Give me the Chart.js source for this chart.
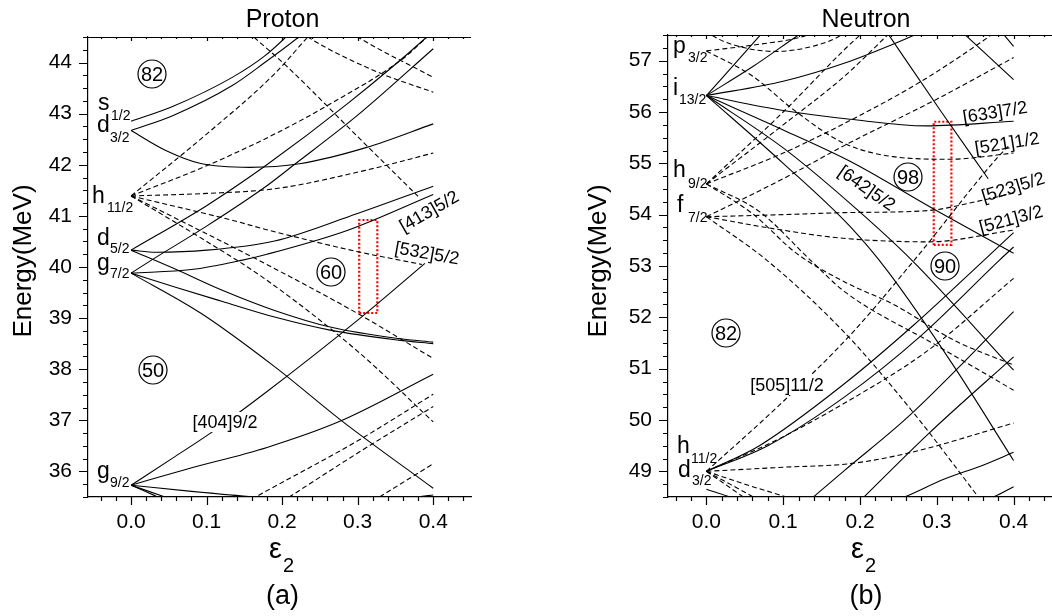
<!DOCTYPE html>
<html lang="en">
<head>
  <meta charset="UTF-8">
  <title>Nilsson diagrams</title>
  <script src="https://cdn.jsdelivr.net/npm/chart.js"></script>
  <style>
    body { margin: 0; background: #fff; }
    canvas { position: absolute; top: 0; }
  </style>
</head>
<body>
  <canvas id="protonChart" width="526" height="616" style="left:0"></canvas>
  <canvas id="neutronChart" width="526" height="616" style="left:526px"></canvas>

  <script>
const FONT = '"Liberation Sans", Arial, sans-serif';

// tick labels
const epsTicks = [0, 0.1, 0.2, 0.3, 0.4];
const protonETicks = [36, 37, 38, 39, 40, 41, 42, 43, 44];
const neutronETicks = [49, 50, 51, 52, 53, 54, 55, 56, 57];

// ---------- (a) proton : each entry is one orbital, points are [eps2, E] ----------
const pS12 = [
  [[0, 42.85], [0.055, 43.14], [0.134, 43.71], [0.177, 44.13], [0.205, 44.5], [0.215, 44.65]]
];
const pD32 = [
  [[0, 42.67], [0.055, 42.96], [0.134, 43.55], [0.177, 44.0], [0.222, 44.5], [0.232, 44.62]],
  [[0, 42.67], [0.046, 42.28], [0.091, 42.03], [0.157, 41.95], [0.223, 42.02], [0.312, 42.34], [0.4, 42.8]]
];
const pD52 = [
  [[0, 40.33], [0.1, 41.2], [0.177, 41.97], [0.287, 43.2], [0.39, 44.48], [0.4, 44.62]],
  [[0, 40.33], [0.033, 40.29], [0.1, 40.33], [0.19, 40.51], [0.287, 40.98], [0.4, 41.58]],
  [[0, 40.33], [0.057, 39.97], [0.12, 39.55], [0.19, 39.15], [0.265, 38.82], [0.354, 38.6], [0.4, 38.53]]
];
const pG72 = [
  [[0, 39.88], [0.0265, 40.13], [0.1, 40.8], [0.177, 41.56], [0.214, 41.98], [0.3, 42.97], [0.4, 44.27]],
  [[0, 39.88], [0.08, 39.95], [0.146, 40.13], [0.18, 40.25], [0.287, 40.72], [0.4, 41.42]],
  [[0, 39.88], [0.06, 39.6], [0.12, 39.33], [0.19, 39.02], [0.265, 38.76], [0.354, 38.57], [0.4, 38.5]],
  [[0, 39.88], [0.093, 39.09], [0.19, 38.05], [0.278, 37.0], [0.4, 35.67]]
];
const pG92 = [
  [[0, 35.73], [0.055, 36.26], [0.108, 36.78], [0.177, 37.53], [0.305, 39.02], [0.389, 40.07]],
  [[0, 35.73], [0.07, 36.03], [0.18, 36.47], [0.278, 36.99], [0.4, 37.9]],
  [[0, 35.73], [0.08, 35.61], [0.164, 35.5], [0.25, 35.42], [0.33, 35.43], [0.38, 35.5], [0.4, 35.54]],
  [[0, 35.73], [0.045, 35.5], [0.06, 35.42]],
  [[0, 35.73], [0.035, 35.5], [0.05, 35.38]]
];
const pH112 = [
  [[0, 41.39], [0.1, 42.6], [0.19, 43.78], [0.234, 44.5], [0.25, 44.75]],
  [[0, 41.39], [0.1, 41.98], [0.19, 42.6], [0.26, 43.16], [0.362, 44.1], [0.389, 44.46], [0.4, 44.6]],
  [[0, 41.39], [0.1, 41.44], [0.19, 41.53], [0.31, 41.89], [0.4, 42.23]],
  [[0, 41.39], [0.135, 40.91], [0.177, 40.74], [0.3, 40.3], [0.385, 40.05]],
  [[0, 41.39], [0.1, 40.65], [0.177, 40.07], [0.3, 39.09], [0.4, 38.21]],
  [[0, 41.39], [0.1, 40.5], [0.177, 39.77], [0.3, 38.35], [0.4, 36.97]]
];
const pOtherDashed = [
  [[0.155, 44.6], [0.164, 44.48], [0.203, 43.97], [0.3, 42.55], [0.38, 41.38]],
  [[0.225, 44.6], [0.234, 44.5], [0.327, 43.81], [0.4, 43.42]],
  [[0.29, 44.6], [0.3, 44.5], [0.4, 43.71]],
  [[0.15, 35.38], [0.177, 35.6], [0.3, 36.6], [0.4, 37.51]],
  [[0.2, 35.41], [0.3, 36.36], [0.4, 37.27]],
  [[0.32, 35.42], [0.4, 36.15]]
];
const pBox = [[0.302, 39.1], [0.326, 40.92]];

// ---------- (b) neutron ----------
const nI132 = [
  [[0, 56.32], [0.069, 57.48], [0.076, 57.6]],
  [[0, 56.32], [0.06, 56.88], [0.119, 57.49], [0.13, 57.6]],
  [[0, 56.32], [0.1, 56.6], [0.187, 56.99], [0.243, 57.32], [0.271, 57.5], [0.285, 57.6]],
  [[0, 56.32], [0.1, 56.03], [0.187, 55.86], [0.286, 55.73], [0.4, 55.82]],
  [[0, 56.32], [0.1, 55.65], [0.187, 55.04], [0.297, 54.1], [0.4, 53.25]],
  [[0, 56.32], [0.1, 55.3], [0.187, 54.22], [0.267, 53.12], [0.4, 50.97]],
  [[0, 56.32], [0.1, 55.0], [0.187, 53.77], [0.236, 52.9], [0.323, 51.03], [0.4, 49.21]]
];
const nHighSolid = [
  [[0.233, 57.6], [0.306, 56.0], [0.367, 54.7]],
  [[0.33, 57.6], [0.4, 56.63]],
  [[0.382, 57.6], [0.4, 57.28]]
];
const nD32 = [
  [[0, 49], [0.069, 49.5], [0.18, 50.71], [0.27, 51.85], [0.362, 53.12], [0.4, 53.65]],
  [[0, 49], [0.08, 49.5], [0.18, 50.45], [0.28, 51.65], [0.382, 53.12], [0.4, 53.37]]
];
const nS12 = [
  [[0, 48.65], [0.033, 48.49], [0.05, 48.4]]
];
const nLowSolid = [
  [[0.13, 48.38], [0.18, 49.02], [0.2625, 50.06], [0.4, 52.11]],
  [[0.195, 48.35], [0.289, 49.73], [0.4, 51.23]],
  [[0.24, 48.4], [0.258, 48.5], [0.31, 48.85], [0.36, 49.12], [0.4, 49.37]],
  [[0.36, 48.4], [0.374, 48.5], [0.4, 48.7]]
];
const nP32 = [
  [[0, 57.19], [0.06, 56.7], [0.113, 56.05], [0.178, 55.4], [0.243, 55.13], [0.317, 55.08], [0.4, 55.2]],
  [[0, 57.19], [0.069, 57.32], [0.121, 57.45], [0.14, 57.55]]
];
const nTopDashed = [
  [[0, 57.6], [0.009, 57.48], [0.05, 57.25], [0.09, 57.18], [0.13, 57.25], [0.17, 57.45], [0.18, 57.55]]
];
const nH92 = [
  [[0, 54.6], [0.1, 56.0], [0.18, 57.22], [0.2, 57.5], [0.207, 57.6]],
  [[0, 54.6], [0.1, 55.75], [0.18, 56.7], [0.236, 57.5], [0.243, 57.6]],
  [[0, 54.6], [0.1, 55.2], [0.18, 55.78], [0.28, 56.6], [0.371, 57.5], [0.38, 57.6]],
  [[0, 54.6], [0.06, 54.02], [0.117, 53.25], [0.18, 52.69], [0.245, 52.24], [0.323, 51.55], [0.4, 51.07]],
  [[0, 54.6], [0.07, 54.05], [0.135, 53.12], [0.18, 52.5], [0.3, 51.45], [0.4, 50.58]]
];
const nF72 = [
  [[0, 53.96], [0.1, 54.7], [0.18, 55.35], [0.3, 56.25], [0.4, 57.06]],
  [[0, 53.96], [0.1, 54.0], [0.18, 54.04], [0.289, 54.08], [0.35, 54.25], [0.4, 54.42]],
  [[0, 53.96], [0.09, 53.72], [0.178, 53.54], [0.289, 53.47], [0.4, 53.7]],
  [[0, 53.96], [0.078, 53.12], [0.18, 51.7], [0.267, 50.19], [0.354, 48.5], [0.36, 48.38]]
];
const nH112 = [
  [[0, 49], [0.095, 50.29], [0.187, 51.65], [0.271, 53.12], [0.38, 55.13], [0.393, 55.33]],
  [[0, 49], [0.09, 49.6], [0.18, 50.33], [0.289, 51.36], [0.4, 52.76]],
  [[0, 49], [0.1, 49.08], [0.187, 49.15], [0.267, 49.37], [0.4, 49.94]],
  [[0, 49], [0.05, 48.75], [0.104, 48.5], [0.12, 48.42]],
  [[0, 49], [0.061, 48.5], [0.07, 48.42]],
  [[0, 49], [0.048, 48.5], [0.055, 48.42]]
];
const nBox = [[0.296, 53.41], [0.319, 55.81]];

// text annotations (page pixels)
const protonLevels = [
  ['s', '1/2', 98, 110, 111, 120],
  ['d', '3/2', 97, 132, 110, 142],
  ['h', '11/2', 92, 203, 107, 212],
  ['d', '5/2', 97, 245, 110, 253],
  ['g', '7/2', 97, 270, 110, 278],
  ['g', '9/2', 97, 478, 110, 487]
];
const neutronLevels = [
  ['p', '3/2', 673, 53, 688, 62],
  ['i', '13/2', 673, 95, 679, 104],
  ['h', '9/2', 673, 177, 688, 188],
  ['f', '7/2', 677, 212, 688, 222],
  ['h', '11/2', 677, 453, 691, 463],
  ['d', '3/2', 678, 477, 692, 485]
];
const protonMagic = [['82', 152, 74], ['50', 153, 370], ['60', 331, 272]];
const neutronMagic = [['82', 726, 333], ['98', 908, 177], ['90', 945, 266]];
const protonTags = [
  ['[413]5/2', 429, 211, -30, false],
  ['[532]5/2', 427, 253, 10, false],
  ['[404]9/2', 225, 422, 0, true]
];
const neutronTags = [
  ['[633]7/2', 995, 112, -9, false],
  ['[521]1/2', 1007, 143, -9, false],
  ['[523]5/2', 1013, 187, -17, false],
  ['[521]3/2', 1011, 219, -15, false],
  ['[642]5/2', 867, 188, 35, false],
  ['[505]11/2', 787, 385, 0, true]
];

function fanSets(curves, dashed) {
  return curves.map(c => ({
    data: c.map(([x, y]) => ({ x, y })),
    showLine: true,
    borderColor: '#000',
    borderWidth: 1.1,
    borderDash: dashed ? [5, 3] : [],
    pointRadius: 0,
    cubicInterpolationMode: 'monotone'
  }));
}

function boxSet(b) {
  const [[x0, y0], [x1, y1]] = b;
  return {
    data: [{ x: x0, y: y0 }, { x: x1, y: y0 }, { x: x1, y: y1 }, { x: x0, y: y1 }, { x: x0, y: y0 }],
    showLine: true,
    borderColor: '#ff0000',
    borderWidth: 2.2,
    borderDash: [2, 2],
    pointRadius: 0,
    tension: 0
  };
}

// frame, minor ticks and all the text
function decorPlugin(o) {
  return {
    id: 'decor',
    afterDraw(chart) {
      const { ctx, chartArea: a, scales: { x, y } } = chart;
      const dx = o.offset;
      ctx.save();
      ctx.strokeStyle = '#000';
      ctx.lineWidth = 1.2;
      ctx.beginPath();
      ctx.moveTo(a.left, a.top + 0.5);
      ctx.lineTo(a.right, a.top + 0.5);
      for (let k = Math.ceil(y.min * 4); k <= Math.floor(y.max * 4); k++) {
        const py = Math.round(y.getPixelForValue(k / 4)) + 0.5;
        const len = k % 4 === 0 ? 9 : 5;
        ctx.moveTo(a.left - len, py);
        ctx.lineTo(a.left, py);
      }
      for (let k = Math.ceil(x.min * 50 - 1e-9); k <= Math.floor(x.max * 50 + 1e-9); k++) {
        const px = Math.round(x.getPixelForValue(k / 50)) + 0.5;
        const major = k % 5 === 0;
        ctx.moveTo(px, a.bottom);
        ctx.lineTo(px, a.bottom + (major ? 8 : 4));
        ctx.moveTo(px, a.top);
        ctx.lineTo(px, a.top + (major ? 4 : 2));
      }
      ctx.stroke();

      ctx.fillStyle = '#000';
      ctx.textBaseline = 'alphabetic';
      ctx.textAlign = 'center';
      ctx.font = '25px ' + FONT;
      ctx.fillText(o.title, o.titleX - dx, 27);
      ctx.font = '27px ' + FONT;
      ctx.fillText(o.panel, o.titleX - dx, 604);

      ctx.save();
      ctx.translate(o.yTitleX - dx, 261);
      ctx.rotate(-Math.PI / 2);
      ctx.font = '26px ' + FONT;
      ctx.fillText('Energy(MeV)', 0, 0);
      ctx.restore();

      ctx.textAlign = 'left';
      ctx.font = '29px ' + FONT;
      ctx.fillText('ε', o.epsX - dx, 558);
      const ew = ctx.measureText('ε').width;
      ctx.font = '20px ' + FONT;
      ctx.fillText('2', o.epsX - dx + ew + 1, 572);

      for (const [m, s, mx, my, sx, sy] of o.levels) {
        ctx.font = '23px ' + FONT;
        ctx.fillText(m, mx - dx, my);
        ctx.font = '14px ' + FONT;
        ctx.fillText(s, sx - dx, sy);
      }

      ctx.lineWidth = 1.2;
      for (const [t, cx, cy] of o.magic) {
        ctx.beginPath();
        ctx.arc(cx - dx, cy, 14, 0, 2 * Math.PI);
        ctx.stroke();
        ctx.font = '20px ' + FONT;
        ctx.textAlign = 'center';
        ctx.textBaseline = 'middle';
        ctx.fillText(t, cx - dx, cy + 1);
      }

      for (const [t, cx, cy, ang, bg] of o.tags) {
        ctx.save();
        ctx.translate(cx - dx, cy);
        ctx.rotate(ang * Math.PI / 180);
        ctx.font = '18px ' + FONT;
        ctx.textAlign = 'center';
        ctx.textBaseline = 'middle';
        if (bg) {
          const w = ctx.measureText(t).width;
          ctx.fillStyle = '#fff';
          ctx.fillRect(-w / 2 - 2, -10, w + 4, 20);
          ctx.fillStyle = '#000';
        }
        ctx.fillText(t, 0, 1);
        ctx.restore();
      }
      ctx.restore();
    }
  };
}

function makePanel(id, o) {
  const tickFont = { family: FONT, size: 21 };
  return new Chart(document.getElementById(id), {
    type: 'scatter',
    data: {
      datasets: [...fanSets(o.solid, false), ...fanSets(o.dashed, true), boxSet(o.box)]
    },
    options: {
      responsive: false,
      animation: false,
      events: [],
      layout: { padding: { top: o.top, right: o.right, left: 0, bottom: 0 } },
      elements: { line: { capBezierPoints: false } },
      plugins: { legend: { display: false }, tooltip: { enabled: false } },
      scales: {
        x: {
          type: 'linear', min: o.xRange[0], max: o.xRange[1],
          grid: { display: false, drawTicks: false },
          border: { display: true, color: '#000', width: 1.2 },
          ticks: {
            autoSkip: false, maxRotation: 0, padding: 13,
            color: '#000', font: tickFont,
            callback: v => v.toFixed(1)
          },
          afterBuildTicks: s => { s.ticks = epsTicks.map(v => ({ value: v })); },
          afterFit: s => { s.height = 616 - o.bottom; }
        },
        y: {
          type: 'linear', min: o.yRange[0], max: o.yRange[1],
          grid: { display: false, drawTicks: false },
          border: { display: true, color: '#000', width: 1.2 },
          ticks: {
            autoSkip: false, padding: 16,
            color: '#000', font: tickFont,
            callback: v => String(v)
          },
          afterBuildTicks: s => { s.ticks = o.yTicks.map(v => ({ value: v })); },
          afterFit: s => { s.width = o.axisLeft; }
        }
      }
    },
    plugins: [decorPlugin(o)]
  });
}

makePanel('protonChart', {
  offset: 0, axisLeft: 88, top: 37, bottom: 497, right: 55,
  xRange: [-0.057, 0.45], yRange: [35.5, 44.5], yTicks: protonETicks,
  solid: [...pS12, ...pD32, ...pD52, ...pG72, ...pG92],
  dashed: [...pH112, ...pOtherDashed],
  box: pBox,
  title: 'Proton', panel: '(a)', titleX: 282.5, yTitleX: 31, epsX: 269,
  levels: protonLevels, magic: protonMagic, tags: protonTags
});

makePanel('neutronChart', {
  offset: 526, axisLeft: 142, top: 35, bottom: 497, right: 0,
  xRange: [-0.05, 0.45], yRange: [48.5, 57.5], yTicks: neutronETicks,
  solid: [...nI132, ...nHighSolid, ...nD32, ...nS12, ...nLowSolid],
  dashed: [...nP32, ...nTopDashed, ...nH92, ...nF72, ...nH112],
  box: nBox,
  title: 'Neutron', panel: '(b)', titleX: 866, yTitleX: 606, epsX: 851,
  levels: neutronLevels, magic: neutronMagic, tags: neutronTags
});
  </script>
</body>
</html>
